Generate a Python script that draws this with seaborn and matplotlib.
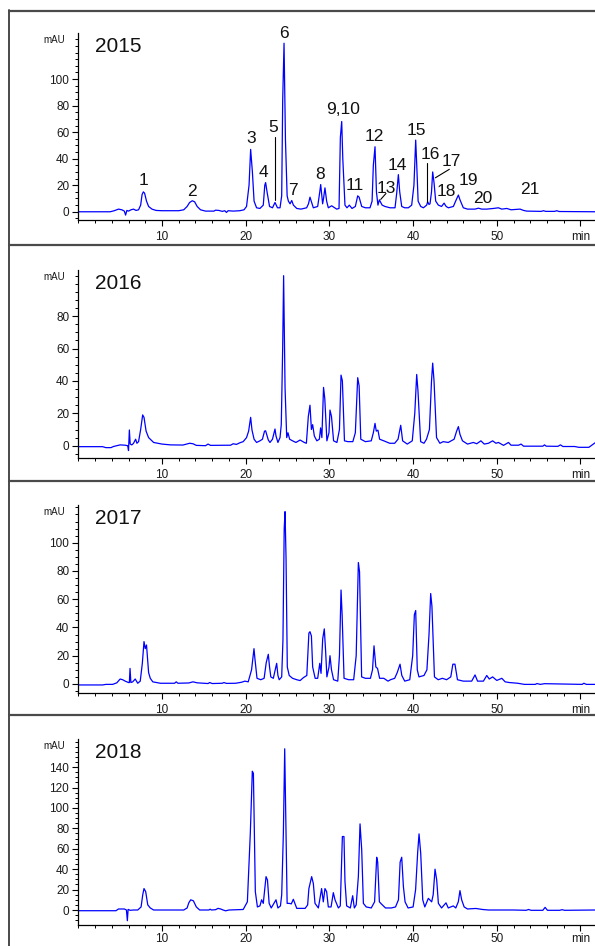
import numpy as np
import pandas as pd
import matplotlib
matplotlib.use("Agg")
import matplotlib.pyplot as plt
import seaborn as sns
from matplotlib.lines import Line2D
from matplotlib.ticker import MultipleLocator, FixedLocator

# ---------------- data ----------------
years = ["2015", "2016", "2017", "2018"]

t_2015 = [0, 3.8, 4.3, 4.8, 5.2, 5.5, 5.65, 5.8, 6.0, 6.3, 6.6, 6.9, 7.2, 7.45, 7.62, 7.77, 7.92, 8.15, 8.4, 8.8,
          9.3, 10, 12.0, 12.6, 13.0, 13.3, 13.62, 13.9, 14.2, 14.6, 15.2, 16.2, 16.4, 16.8, 17.2, 17.5, 17.7, 17.9,
          18.5, 19.3, 19.8, 20.1, 20.4, 20.59, 20.8, 21.0, 21.3, 21.7, 22.1, 22.28, 22.38, 22.55, 22.85, 23.2, 23.5,
          23.8, 24.1, 24.3, 24.42, 24.58, 24.75, 24.95, 25.1, 25.3, 25.5, 25.7, 26.1, 26.6, 27.28, 27.5, 27.68,
          27.88, 28.08, 28.6, 28.85, 28.96, 29.19, 29.3, 29.47, 29.67, 29.87, 30.27, 30.87, 31.15, 31.31, 31.47,
          31.6, 31.86, 32.1, 32.38, 32.7, 33.1, 33.38, 33.55, 33.86, 34.3, 34.85, 35.1, 35.25, 35.45, 35.62, 35.8,
          35.97, 36.3, 36.64, 37.24, 37.84, 38.04, 38.24, 38.4, 38.64, 39.0, 39.43, 39.83, 40.1, 40.31, 40.43,
          40.6, 40.91, 41.23, 41.62, 41.74, 41.9, 42.02, 42.2, 42.34, 42.5, 42.7, 43.02, 43.4, 43.7, 43.95, 44.21,
          44.81, 45.15, 45.41, 45.6, 46.0, 46.5, 47.4, 47.8, 48.2, 48.8, 49.6, 50.19, 50.6, 51.19, 51.7, 52.78,
          53.2, 53.58, 55.3, 55.57, 55.85, 56.9, 57.16, 57.45, 61.8]
a_2015 = [0, 0, 0.8, 2, 1.5, 0.5, -2.5, 1, 0.5, 1.5, 2, 1, 1.5, 5, 13, 15, 14, 8, 4, 2,
          1, 0.8, 0.8, 1.5, 4, 7, 8.3, 7.5, 4, 1.5, 0.5, 0.5, 1.2, 1, 0.3, 0.8, -0.5, 0.8,
          0.5, 0.8, 1.5, 4, 20, 47, 30, 8, 3, 2.5, 5, 20, 22, 15, 4, 3, 7,
          3, 3, 12, 84, 127, 54, 12, 8, 6, 8.5, 5, 2.5, 2, 3, 6, 11,
          7, 3, 4, 15, 20.5, 6, 10, 18, 8, 3, 4.5, 2, 2.5, 56, 68,
          40, 5, 3, 5, 2.5, 4, 12, 11, 4, 3, 3, 8, 35, 49, 15, 5,
          9, 5, 4, 3, 3, 14, 28, 15, 4, 3, 3, 5, 20, 54, 36,
          8, 4, 3, 5, 7.5, 5.5, 6, 15, 30, 22, 8, 5, 4, 6.5, 4, 3,
          4, 9, 12.6, 9, 3, 2, 2, 2.7, 2, 2, 2.5, 3, 2, 2.5, 1.5, 2,
          1, 0.5, 0.3, 0.8, 0.3, 0.3, 0.8, 0.2, 0]

t_2016 = [0, 2.9, 3.3, 3.9, 4.2, 5.0, 5.6, 5.9, 6.0, 6.1, 6.2, 6.4, 6.6, 6.85, 7.0, 7.2, 7.45, 7.69, 7.85, 8.1,
          8.4, 9.0, 10, 11, 12.5, 13.3, 13.7, 14.1, 15.2, 15.5, 15.8, 18.2, 18.5, 18.9, 19.3, 19.7, 20.1, 20.35,
          20.59, 20.75, 21.0, 21.3, 21.7, 22.0, 22.25, 22.38, 22.7, 22.9, 23.2, 23.5, 23.62, 23.85, 24.1, 24.25,
          24.42, 24.53, 24.7, 24.9, 25.05, 25.25, 25.6, 26.0, 26.5, 27.0, 27.25, 27.48, 27.68, 27.85, 28.0, 28.2,
          28.5, 28.8, 28.95, 29.1, 29.3, 29.45, 29.7, 29.95, 30.07, 30.25, 30.5, 30.9, 31.2, 31.39, 31.55, 31.8,
          32.2, 32.8, 33.1, 33.38, 33.55, 33.75, 34.3, 35.0, 35.25, 35.45, 35.6, 35.8, 36.0, 36.5, 37.2, 37.8,
          38.2, 38.52, 38.75, 39.3, 39.9, 40.2, 40.43, 40.58, 40.9, 41.3, 41.6, 41.95, 42.2, 42.34, 42.5, 42.8,
          43.2, 43.6, 44.2, 44.9, 45.2, 45.41, 45.6, 45.9, 46.5, 47.2, 47.6, 48.1, 48.5, 49.0, 49.5, 49.9, 50.2,
          50.8, 51.4, 51.7, 52.6, 52.9, 53.2, 55.5, 55.7, 55.9, 57.3, 57.6, 57.9, 59.3, 59.8, 61.0, 61.4, 61.8]
a_2016 = [-0.6, -0.6, -1.2, -1.2, -0.5, 0.5, 0.3, 0, -3, 9.7, 1, 0.5, 1.5, 4, 1.5, 2.5, 10, 19, 17.5, 9,
          5, 2, 1, 0.5, 0.4, 1.5, 1.2, 0.2, 0, 1, 0.2, 0.3, 1.2, 0.8, 1.8, 2.5, 5, 9,
          17.5, 9.7, 4, 2, 3, 4, 9, 9.2, 3.5, 2, 4, 10.3, 6, 2, 5, 13,
          61, 105, 36, 5, 8, 4, 3, 2, 3.5, 2, 1.5, 18, 25, 10, 13, 6,
          3, 4, 11, 5, 36, 29, 3, 8, 22, 18, 3, 2, 10, 43.6, 40, 3,
          2.5, 2.5, 8, 42, 37, 4, 2.5, 3, 8, 13.8, 9, 9.6, 4, 3, 1.5, 1.5,
          4, 12.6, 3, 1, 3, 20, 44, 34, 2.5, 1.5, 4, 10, 40, 51, 40, 5,
          1.5, 2.5, 2, 4, 9, 11.8, 7, 3, 1, 2, 1.2, 3, 1, 1.5, 3, 1.5, 2,
          0.2, 2, 0.3, 0.3, 1, -0.3, -0.3, 0.5, -0.3, -0.4, 0.5, -0.5, -0.5, -1, -1, 0.5, 2]

t_2017 = [0, 2.9, 3.3, 4.1, 4.6, 5.0, 5.3, 5.6, 6.0, 6.1, 6.18, 6.28, 6.5, 6.8, 7.1, 7.4, 7.65, 7.85, 8.0, 8.15,
          8.4, 8.6, 8.9, 9.8, 11.5, 11.7, 11.9, 13.2, 13.7, 14.2, 15.5, 15.7, 16.0, 17.2, 17.4, 17.7, 18.8, 19.5,
          19.9, 20.3, 20.7, 20.99, 21.1, 21.35, 21.8, 22.2, 22.45, 22.7, 22.85, 23.0, 23.3, 23.7, 23.85, 24.0,
          24.3, 24.45, 24.6, 24.7, 24.82, 24.97, 25.2, 25.6, 26.1, 26.5, 26.9, 27.3, 27.55, 27.68, 27.85, 28.0,
          28.3, 28.6, 28.85, 29.0, 29.2, 29.39, 29.55, 29.7, 29.95, 30.07, 30.25, 30.5, 31.0, 31.2, 31.39, 31.52,
          31.75, 32.3, 32.9, 33.2, 33.46, 33.6, 33.85, 34.3, 34.9, 35.15, 35.33, 35.55, 35.75, 36.0, 36.5, 37.0,
          37.3, 37.8, 38.1, 38.44, 38.65, 39.0, 39.6, 39.95, 40.15, 40.31, 40.5, 40.7, 41.3, 41.65, 41.9, 42.1,
          42.25, 42.55, 43.0, 43.5, 44.0, 44.5, 44.75, 45.0, 45.3, 46.0, 47.0, 47.4, 47.7, 48.4, 48.8, 49.1, 49.5,
          50.0, 50.6, 51.0, 51.5, 52.5, 53.3, 54.6, 54.8, 55.2, 55.7, 60.2, 60.4, 60.7, 61.8]
a_2017 = [-0.7, -0.7, -0.3, -0.3, 0.8, 3.5, 3, 2, 1, 1, 11, 1, 1.5, 3.5, 0.5, 2, 14.6, 30, 25, 27.6,
          8, 4, 1.5, 0.5, 0.5, 1.5, 0.5, 0.7, 1.5, 0.8, 0.3, 1, 0.3, 0.5, 1, 0.4, 0.5, 1.2,
          2, 1.5, 10, 25, 18, 4, 3, 4, 15, 21, 12, 5, 4, 14.6, 6, 3,
          5, 31, 110, 122, 89, 12, 6, 4, 3, 2.4, 4.5, 6, 36, 37, 34, 12,
          4, 4, 14.6, 7.5, 32, 39, 23, 5, 12, 20, 10, 3, 2, 20, 66.5, 49,
          4, 3, 3, 20, 86, 79.5, 5, 4, 4, 10, 27, 12, 11, 4, 4, 2,
          3, 4, 8, 14, 6, 2, 3, 20, 49, 52, 10, 5, 6, 10, 35, 64,
          55, 5, 3, 4, 3, 5, 14, 14, 3, 2, 2, 6.4, 2, 2, 6, 3.5, 5,
          2.5, 4, 1.5, 1, 0.5, -0.3, -0.3, 0.3, -0.3, 0.2, -0.3, 0.5, -0.3, -0.3]

t_2018 = [0, 4.5, 4.8, 5.5, 5.75, 5.86, 5.95, 6.2, 6.6, 7.1, 7.5, 7.7, 7.85, 8.05, 8.3, 8.6, 9.0, 12.6, 13.0, 13.2,
          13.43, 13.75, 14.1, 14.5, 15.6, 15.75, 15.9, 16.4, 16.7, 17.0, 17.3, 17.6, 18.0, 19.7, 20.2, 20.55,
          20.79, 20.92, 21.05, 21.15, 21.4, 21.7, 21.9, 22.1, 22.43, 22.6, 22.8, 23.05, 23.62, 23.85, 24.15, 24.3,
          24.5, 24.66, 24.82, 24.95, 25.2, 25.45, 25.69, 25.9, 26.1, 27.1, 27.4, 27.55, 27.88, 28.08, 28.28, 28.68,
          29.07, 29.27, 29.47, 29.67, 29.87, 30.2, 30.47, 30.67, 31.07, 31.3, 31.55, 31.74, 31.86, 32.06, 32.5,
          32.78, 32.98, 33.2, 33.46, 33.66, 33.86, 34.06, 34.4, 35.0, 35.4, 35.65, 35.77, 35.97, 36.2, 36.7, 37.4,
          37.9, 38.25, 38.45, 38.64, 38.84, 39.04, 39.4, 40.0, 40.3, 40.55, 40.71, 40.91, 41.15, 41.4, 41.82,
          42.22, 42.4, 42.62, 42.82, 43.02, 43.4, 43.93, 44.2, 44.8, 45.1, 45.4, 45.6, 45.8, 46.1, 46.5, 47.5,
          48.3, 49.0, 52.0, 53.5, 53.8, 54.1, 55.5, 55.77, 56.05, 57.5, 57.8, 58.1, 61.8]
a_2018 = [-0.7, -0.7, 1, 1, 0, -10.5, 0.6, -0.3, 0, 0, 3, 15, 21, 18, 5, 2, 0, 0, 2, 7,
          10, 9, 3, 0, 0, 0.8, 0, 0.3, 1.6, 1, 0, -0.8, 0, 0.5, 8, 75,
          136, 134, 65, 18, 3, 4, 10, 6.5, 32.7, 29.4, 6.5, 2, 10, 2, 4, 14.7,
          75, 158, 75, 6.5, 6.5, 6, 10.5, 6, 1.6, 1.6, 5, 21, 32.7, 26, 6.5, 2,
          21, 8, 21, 18, 3, 3, 17, 10, 2, 4, 72, 72, 28, 4, 2,
          14, 2, 5, 32.7, 84.4, 59, 6.5, 3, 2, 8, 51.7, 47, 8, 6, 2, 2,
          3, 10, 47, 51.7, 23, 8, 2, 3, 20, 57, 74.6, 55.6, 10, 3, 11.4,
          8, 15, 40, 29.4, 6.5, 2, 7, 2, 4, 2, 8, 19, 10, 3, 1, 1.5,
          0.5, 0, 0, -0.3, 0.5, -0.3, -0.3, 2.6, -0.3, -0.3, 0.3, -0.3, 0]

peak_names = ["1", "2", "3", "4", "5", "6", "7", "8", "9,10", "11", "12", "13", "14", "15",
              "16", "17", "18", "19", "20", "21"]
peak_label_t = [7.77, 13.54, 20.6, 22.1, 23.3, 24.58, 25.7, 28.88, 31.66, 33.06, 35.33, 36.84,
                38.12, 40.35, 42.02, 44.61, 43.93, 46.6, 48.3, 53.97]
peak_label_a = [23.9, 15, 55.3, 29.4, 63.3, 134.4, 16.3, 28.4, 77, 19.6, 56.5, 17.6,
                35, 61.6, 43.5, 37.7, 15, 23.9, 10, 17]
# leader lines for labels 5, 13, 16, 17: (t0, a0, t1, a1)
leader_t0 = [23.54, 36.13, 41.7, 44.33]
leader_a0 = [56.5, 9.3, 37.0, 32.0]
leader_t1 = [23.54, 36.76, 41.7, 42.66]
leader_a1 = [8.8, 13.8, 7.5, 25.6]

y_ticks = [[0, 20, 40, 60, 80, 100],
           [0, 20, 40, 60, 80],
           [0, 20, 40, 60, 80, 100],
           [0, 20, 40, 60, 80, 100, 120, 140]]
x_ticks = [10, 20, 30, 40, 50, 60]
x_tick_labels = ["10", "20", "30", "40", "50", "min"]

traces = [(t_2015, a_2015), (t_2016, a_2016), (t_2017, a_2017), (t_2018, a_2018)]

# ---------------- layout ----------------
W, H = 595, 946
sns.set_style("white")
plt.rcParams["font.family"] = ["Liberation Sans", "DejaVu Sans"]

fig = plt.figure(figsize=(W / 100, H / 100), dpi=100)

x_left_px = 78.3
x_per_min = 8.37
xmax = (W - x_left_px) / x_per_min
axes_px = [(33, 220), (270, 458), (505, 693), (739, 925)]      # top, bottom (pixels)
ylims = [(-6.2, 134.7), (-7.6, 108.5), (-6.4, 126.7), (-14.7, 167.6)]
x_pads = [3.5, 3.5, 3.5, 1.5]
blue = "#0000ff"

for i, (yr, (tt, aa)) in enumerate(zip(years, traces)):
    top, bot = axes_px[i]
    ax = fig.add_axes([x_left_px / W, 1 - bot / H, (W - x_left_px) / W, (bot - top) / H])
    df = pd.DataFrame({"t": tt, "mAU": aa})
    sns.lineplot(data=df, x="t", y="mAU", ax=ax, color=blue, linewidth=0.9,
                 estimator=None, sort=False)
    ax.set_xlim(0, xmax)
    ax.set_ylim(*ylims[i])
    ax.set_xlabel("")
    ax.set_ylabel("")
    for s in ["top", "right"]:
        ax.spines[s].set_visible(False)
    for s in ["left", "bottom"]:
        ax.spines[s].set_color("black")
        ax.spines[s].set_linewidth(0.9)
    ax.xaxis.set_major_locator(FixedLocator(x_ticks))
    ax.set_xticklabels(x_tick_labels)
    ax.xaxis.set_minor_locator(MultipleLocator(2))
    ax.yaxis.set_major_locator(FixedLocator(y_ticks[i]))
    ax.yaxis.set_minor_locator(MultipleLocator(5))
    ax.tick_params(axis="both", which="major", direction="out", length=4.5, width=0.8,
                   color="black", labelsize=8.5, labelcolor="#1a1a1a")
    ax.tick_params(axis="both", which="minor", direction="out", length=2.2, width=0.7, color="black")
    ax.tick_params(axis="x", which="major", pad=x_pads[i])
    ax.tick_params(axis="y", which="major", pad=2)
    ax.tick_params(left=True, bottom=True, which="both")
    ax.patch.set_alpha(0)
    ax.text(-0.046, 1 - 7 / (bot - top), "mAU", transform=ax.transAxes, ha="center", va="center",
            fontsize=7, color="#1a1a1a")
    ax.text(0.032, 1 - 4 / (bot - top), yr, transform=ax.transAxes, ha="left", va="top",
            fontsize=15, color="#111111")
    if i == 0:
        for name, lt, la in zip(peak_names, peak_label_t, peak_label_a):
            ax.text(lt, la, name, ha="center", va="center", fontsize=12.5, color="#111111")
        for t0, a0, t1, a1 in zip(leader_t0, leader_a0, leader_t1, leader_a1):
            ax.plot([t0, t1], [a0, a1], color="black", linewidth=0.8)

# panel frames
frame_col = "#4a4a4a"
fig.add_artist(Line2D([9 / W, 9 / W], [0, 1 - 10.5 / H], color=frame_col, linewidth=1.4))
for y in [10.8, 245.0, 480.5, 715.0]:
    fig.add_artist(Line2D([9 / W, 1], [1 - y / H, 1 - y / H], color=frame_col, linewidth=1.6))

fig.savefig("out.png", dpi=100)
